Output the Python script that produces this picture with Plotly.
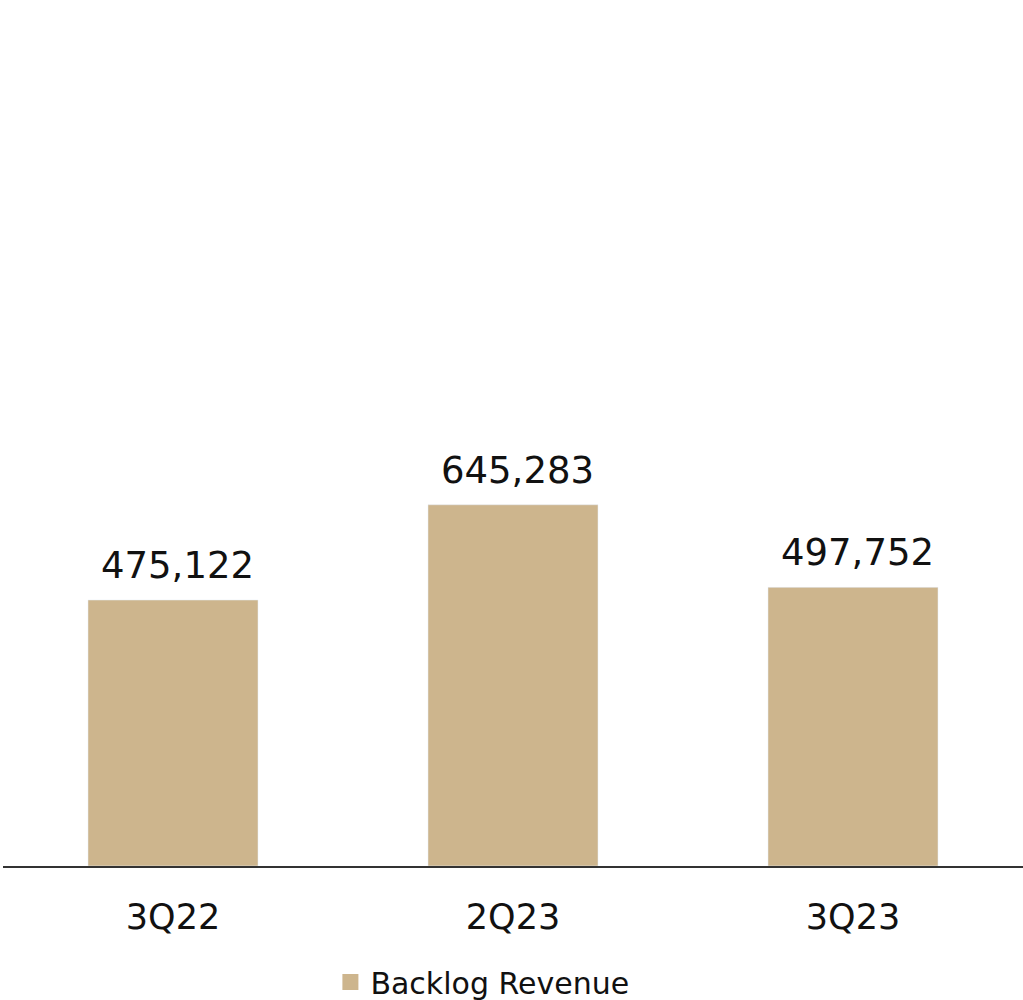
import plotly.graph_objects as go

categories = ["3Q22", "2Q23", "3Q23"]
backlog_revenue = [475122, 645283, 497752]
series_name = "Backlog Revenue"

bar_color = "#CDB58D"
font_family = "DejaVu Sans, sans-serif"

fig = go.Figure()
fig.add_trace(go.Bar(
    x=categories, y=backlog_revenue, marker_color=bar_color,
    showlegend=False, name=series_name, hoverinfo="skip",
))
fig.add_trace(go.Scatter(
    x=[None], y=[None], mode="markers", name=series_name,
    marker=dict(symbol="square", size=19, color=bar_color),
))

for c, v in zip(categories, backlog_revenue):
    fig.add_annotation(
        x=c, y=v, text=f"{v:,}", showarrow=False, yanchor="bottom",
        yshift=11, xshift=4, font=dict(size=37, color="#111111", family=font_family),
    )

fig.update_layout(
    width=1023, height=1000,
    margin=dict(l=3, r=0, t=0, b=134),
    plot_bgcolor="white", paper_bgcolor="white",
    bargap=0.5,
    font=dict(family=font_family, color="#111111"),
    legend=dict(
        orientation="h", x=0.47, xanchor="center", yref="container",
        y=0.018, yanchor="middle", font=dict(size=30, color="#111111"),
        itemwidth=30,
    ),
    xaxis=dict(
        showline=True, linecolor="#333333", linewidth=2, ticks="",
        tickfont=dict(size=35, color="#111111"), ticklabelstandoff=19,
        showgrid=False, zeroline=False,
    ),
    yaxis=dict(range=[0, 1547000], visible=False, showgrid=False, zeroline=False),
)

fig.write_html("out.html")
